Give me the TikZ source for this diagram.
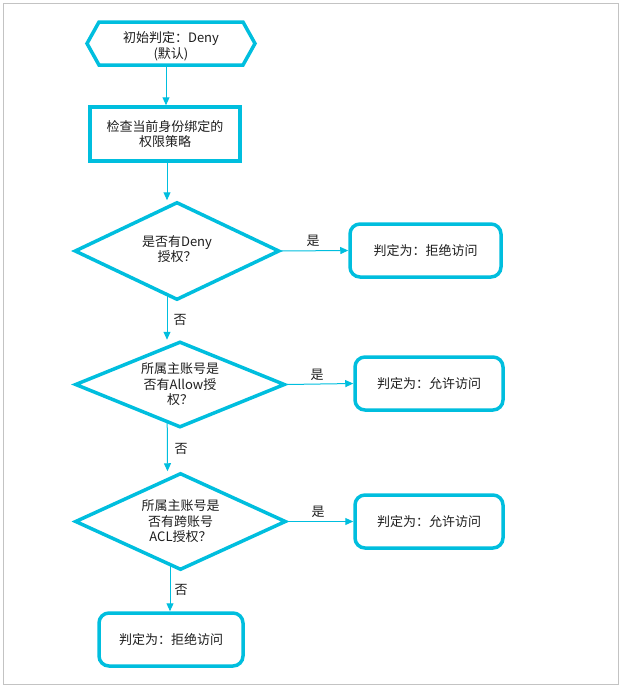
\documentclass[tikz,border=0pt]{standalone}
\usepackage{fontspec}
\setmainfont{Noto Sans CJK SC}
\usetikzlibrary{shapes.geometric,arrows.meta,backgrounds}
\definecolor{cy}{RGB}{0,190,222}
\definecolor{tx}{RGB}{30,30,30}
\definecolor{frame}{RGB}{195,195,195}
\begin{document}
\begin{tikzpicture}[x=1pt,y=-1pt,
  font=\fontsize{13}{15.5}\selectfont,
  shp/.style={draw=cy, line width=3.5pt, fill=white, text=tx, align=center, inner sep=0pt},
  procbox/.style={shp, rectangle},
  decision/.style={shp, diamond, aspect=2},
  result/.style={shp, rectangle, rounded corners=10pt, minimum width=148pt, minimum height=53pt},
  flow/.style={draw=cy, line width=1pt, -{Triangle[length=8pt,width=7pt]}},
  lbl/.style={text=tx, inner sep=0pt}]
\useasboundingbox (0,0) rectangle (622,689);
\draw[frame, line width=1pt] (3,3) rectangle (618,684);

% start hexagon
\node[inner sep=0pt, outer sep=0pt, minimum width=168pt, minimum height=43pt] (init) at (171,43.5) {};
\node[text=tx, align=center, inner sep=0pt] (inittext) at ([yshift=-3pt]init.center) {初始判定：Deny\\(默认)};

\node[procbox, minimum width=150pt, minimum height=54pt] (box) at (165,134) {检查当前身份绑定的\\权限策略};

\node[decision, minimum width=205pt, minimum height=98pt] (d1) at (177,251) {\raisebox{-1pt}{\begin{tabular}{@{}c@{}}是否有Deny\\授权？\end{tabular}}};
\node[decision, minimum width=210pt, minimum height=86pt] (d2) at (180,384.5) {所属主账号是\\否有Allow授\\权？};
\node[decision, minimum width=211pt, minimum height=97pt] (d3) at (180.5,521.5) {所属主账号是\\否有跨账号\\ACL授权？};

\node[result, minimum width=151pt] (r1) at (425.5,250.5) {判定为：拒绝访问};
\node[result] (r2) at (429,383.5) {判定为：允许访问};
\node[result] (r3) at (429,521.5) {判定为：允许访问};
\node[result, minimum width=144pt] (fin) at (171,639.5) {判定为：拒绝访问};

\begin{scope}[on background layer]
\draw[draw=cy, line width=3.5pt, line join=miter, fill=white]
  (init.west) -- ([xshift=12pt]init.north west) -- ([xshift=-12pt]init.north east)
  -- (init.east) -- ([xshift=-12pt]init.south east) -- ([xshift=12pt]init.south west) -- cycle;
\draw[flow] ([xshift=-5pt]init.south) -- ([xshift=1pt]box.north);
\draw[flow] ([xshift=2pt]box.south) -- ([xshift=-10pt]d1.north);
\draw[flow] ([xshift=-10pt]d1.center) -- ([xshift=-13pt]d2.north);
\draw[flow] ([xshift=-13pt]d2.center) -- ([xshift=-13pt]d3.north);
\draw[flow] ([xshift=-10.5pt]d3.center) -- ([xshift=-1pt]fin.north);
\end{scope}
\draw[flow] (d1.east) -- (r1.west);
\draw[flow] (d2.east) -- (r2.west);
\draw[flow] (d3.east) -- (r3.west);

\node[lbl] (y1) at (313,241) {是};
\node[lbl] (y2) at (317,375) {是};
\node[lbl] (y3) at (318,512) {是};
\node[lbl] (n1) at (180,320) {否};
\node[lbl] (n2) at (181,449) {否};
\node[lbl] (n3) at (181,590) {否};
\end{tikzpicture}
\end{document}
